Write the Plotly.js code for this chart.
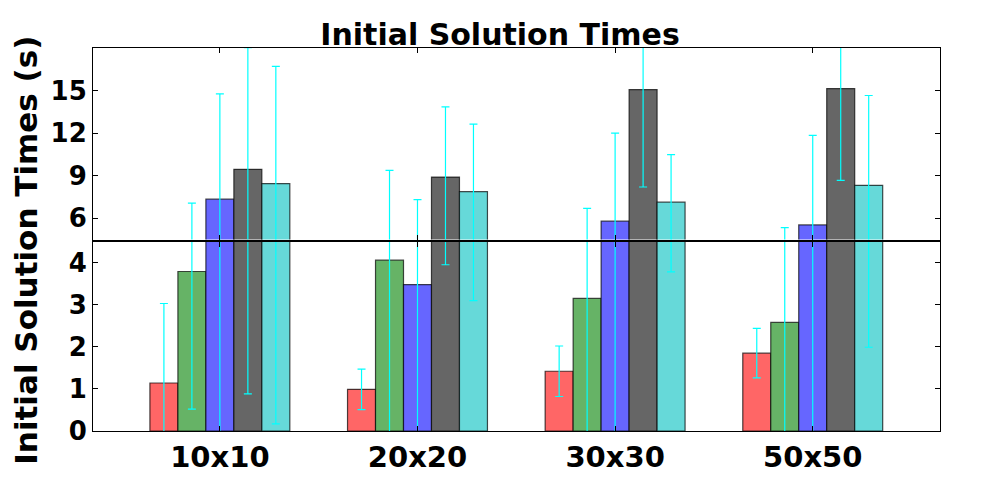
<!DOCTYPE html>
<html>
<head>
<meta charset="utf-8">
<script src="https://cdn.plot.ly/plotly-3.0.1.min.js"></script>
<style>
  body { margin: 0; background: white; }
  #plot { width: 1000px; height: 500px; }
</style>
</head>
<body>
<div id="plot"></div>
<script>
// broken-axis bar chart: the same bars are drawn in two panels,
// the lower one for 0..4.5 and the upper one for 4.5..18

const categories = ['10x10', '20x20', '30x30', '50x50'];

// mean times (s) for each of the five bars in a group
const redTimes   = [1.14, 0.99, 1.42, 1.85];
const greenTimes = [3.79, 4.06, 3.15, 2.58];
const blueTimes  = [7.34, 3.48, 5.79, 5.53];
const grayTimes  = [9.45, 8.90, 15.07, 15.14];
const cyanTimes  = [8.44, 7.87, 7.13, 8.32];

// error bar half-lengths
const redErr   = [1.89, 0.48, 0.60, 0.59];
const greenErr = [3.27, 5.32, 3.55, 2.76];
const blueErr  = [7.42, 3.83, 6.21, 6.31];
const grayErr  = [8.57, 4.95, 6.87, 6.47];
const cyanErr  = [8.27, 4.77, 3.35, 6.33];

const lowerTicks = [0, 1, 2, 3, 4];
const upperTicks = [6, 9, 12, 15];

const fontFamily = 'DejaVu Sans, sans-serif';
const errColor = '#00ffff';

const series = [
    {name: 'red',   y: redTimes,   err: redErr,   color: 'rgb(255,102,102)'},
    {name: 'green', y: greenTimes, err: greenErr, color: 'rgb(102,179,102)'},
    {name: 'blue',  y: blueTimes,  err: blueErr,  color: 'rgb(102,102,255)'},
    {name: 'gray',  y: grayTimes,  err: grayErr,  color: 'rgb(102,102,102)'},
    {name: 'cyan',  y: cyanTimes,  err: cyanErr,  color: 'rgb(102,217,217)'}
];

function make_trace(s, xaxis, yaxis) {
    return {x: categories,
            y: s.y,
            xaxis: xaxis,
            yaxis: yaxis,
            type: 'bar',
            name: s.name,
            showlegend: false,
            marker: {color: s.color,
                     line: {color: 'rgba(0,0,0,0.7)', width: 1.2}},
            error_y: {type: 'data',
                      array: s.err,
                      symmetric: true,
                      color: errColor,
                      thickness: 1.2,
                      width: 4}};
}

const traces = [];
series.forEach(s => traces.push(make_trace(s, 'x', 'y')));   // lower panel
series.forEach(s => traces.push(make_trace(s, 'x2', 'y2'))); // upper panel

const axisCommon = {showline: true,
                    linecolor: 'black',
                    linewidth: 1,
                    mirror: 'ticks',
                    ticks: 'inside',
                    ticklen: 5,
                    tickcolor: 'black',
                    showgrid: false,
                    zeroline: false};

const layout = {
    width: 1000,
    height: 500,
    margin: {l: 93, r: 60, t: 48, b: 69},
    paper_bgcolor: 'white',
    plot_bgcolor: 'white',
    barmode: 'group',
    bargap: 0.292,
    bargroupgap: 0,
    font: {family: fontFamily, color: 'black'},
    title: {text: 'Initial Solution Times',
            font: {family: fontFamily, size: 30, weight: 'bold', color: 'black'},
            xref: 'container', x: 0.5, xanchor: 'center',
            yref: 'container', y: 0.932, yanchor: 'middle'},
    xaxis: Object.assign({}, axisCommon, {
        anchor: 'y',
        range: [-0.642, 3.644],
        tickfont: {family: fontFamily, size: 29, weight: 'bold', color: 'black'}
    }),
    xaxis2: Object.assign({}, axisCommon, {
        anchor: 'y2',
        matches: 'x',
        range: [-0.642, 3.644],
        showticklabels: false
    }),
    yaxis: Object.assign({}, axisCommon, {
        domain: [0, 0.4945],
        range: [0, 4.5],
        tickvals: lowerTicks,
        tickfont: {family: fontFamily, size: 26, weight: 'bold', color: 'black'}
    }),
    yaxis2: Object.assign({}, axisCommon, {
        domain: [0.5, 1],
        range: [4.5, 18],
        tickvals: upperTicks,
        tickfont: {family: fontFamily, size: 26, weight: 'bold', color: 'black'}
    }),
    annotations: [{text: 'Initial Solution Times (s)',
                   xref: 'paper', yref: 'paper',
                   x: -0.079, y: 0.471,
                   xanchor: 'center', yanchor: 'middle',
                   textangle: -90,
                   showarrow: false,
                   font: {family: fontFamily, size: 31, weight: 'bold', color: 'black'}}]
};

Plotly.newPlot('plot', traces, layout, {displayModeBar: false, responsive: false});
</script>
</body>
</html>
